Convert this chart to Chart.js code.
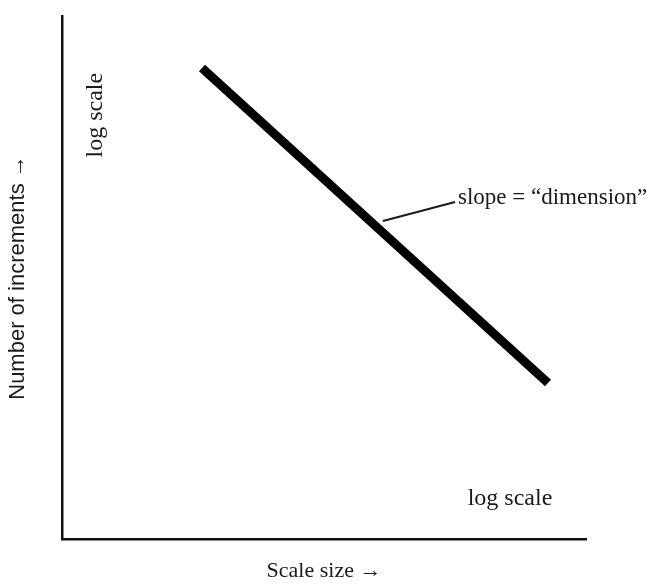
<!DOCTYPE html>
<html>
<head>
<meta charset="utf-8">
<script src="https://cdn.jsdelivr.net/npm/chart.js@4/dist/chart.umd.min.js"></script>
<style>
  html,body{margin:0;padding:0;background:#fff;}
  #wrap{width:650px;height:584px;}
</style>
</head>
<body>
<div id="wrap"><canvas id="c" width="650" height="584"></canvas></div>
<script>
// schematic log-log line: scale size vs number of increments
const scaleSize=[6.33,606];
const increments=[503,7.85];
const xRange=[1,1000];
const yRange=[1,1000];

const xTitle='Scale size \u2192';
const yTitle='Number of increments \u2192';
const axisNote='log scale';
const slopeNote='slope = \u201cdimension\u201d';

const SERIF='"Liberation Serif","DejaVu Serif",serif';
const SANS='"Liberation Sans","DejaVu Sans",sans-serif';
const INK='#1a1a1a';

// text notes placed in data coordinates
const notes={
  yNote:{x:1.55,y:270},
  xNote:{x:367,y:1.57},
  slope:{x:185,y:83.5},
  leaderFrom:{x:68.8,y:66.7},
  leaderTo:{x:178,y:85.7}
};

const notePlugin={
  id:'notes',
  afterDatasetsDraw(chart){
    const ctx=chart.ctx, xs=chart.scales.x, ys=chart.scales.y;
    const px=p=>[xs.getPixelForValue(p.x),ys.getPixelForValue(p.y)];
    ctx.save();
    ctx.fillStyle=INK; ctx.strokeStyle=INK;

    // leader line to slope label
    const a=px(notes.leaderFrom), b=px(notes.leaderTo);
    ctx.beginPath(); ctx.moveTo(a[0],a[1]); ctx.lineTo(b[0],b[1]);
    ctx.lineWidth=2; ctx.stroke();

    ctx.font='23px '+SERIF; ctx.textAlign='left'; ctx.textBaseline='alphabetic';
    const s=px(notes.slope); ctx.fillText(slopeNote,s[0],s[1]);

    ctx.font='24px '+SERIF; ctx.textAlign='center';
    const xn=px(notes.xNote); ctx.fillText(axisNote,xn[0],xn[1]);

    const yn=px(notes.yNote);
    ctx.translate(yn[0],yn[1]); ctx.rotate(-Math.PI/2);
    ctx.textBaseline='middle'; ctx.fillText(axisNote,0,0);
    ctx.restore();
  }
};

new Chart(document.getElementById('c'),{
  type:'scatter',
  data:{datasets:[{
    data:scaleSize.map((x,i)=>({x,y:increments[i]})),
    showLine:true,borderColor:'#000',borderWidth:9,borderCapStyle:'butt',
    pointRadius:0,pointHoverRadius:0,fill:false
  }]},
  options:{
    responsive:false,animation:false,
    layout:{padding:{top:16,right:64,left:0,bottom:0}},
    plugins:{legend:{display:false},tooltip:{enabled:false}},
    scales:{
      x:{type:'logarithmic',min:xRange[0],max:xRange[1],
        ticks:{display:false},grid:{display:false},
        border:{display:true,color:'#111',width:2.5},
        title:{display:true,text:xTitle,color:INK,font:{family:SERIF,size:22},padding:{top:0,bottom:0}},
        afterFit:s=>{s.height=45;}},
      y:{type:'logarithmic',min:yRange[0],max:yRange[1],
        ticks:{display:false},grid:{display:false},
        border:{display:true,color:'#111',width:2.5},
        title:{display:true,text:yTitle,color:INK,font:{family:SANS,size:22},padding:{top:5,bottom:0}},
        afterFit:s=>{s.width=62;}}
    }
  },
  plugins:[notePlugin]
});
</script>
</body>
</html>
